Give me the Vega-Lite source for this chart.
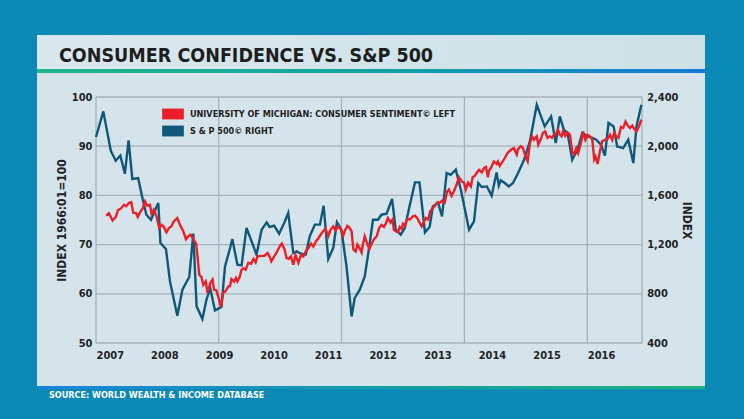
{
  "$schema": "https://vega.github.io/schema/vega-lite/v6.json",
  "background": "#0a88b6",
  "padding": {"left": 37, "top": 35, "right": 39, "bottom": 19},
  "spacing": 0,
  "title": {"text": "SOURCE: WORLD WEALTH & INCOME DATABASE", "orient": "bottom", "anchor": "start", "frame": "group", "offset": 2, "dx": 12, "color": "#ffffff", "font": "DejaVu Sans Condensed, sans-serif", "fontSize": 9, "fontWeight": "bold"},
  "config": {
    "view": {"stroke": null},
    "axis": {"grid": false, "domain": false, "ticks": false, "labelFont": "DejaVu Sans Condensed, sans-serif", "labelFontSize": 11, "labelFontWeight": "bold", "labelColor": "#1f2326", "titleFont": "DejaVu Sans Condensed, sans-serif", "titleFontSize": 12, "titleFontWeight": "bold", "titleColor": "#1f2326"}
  },
  "datasets": {
    "sent": [
      {"d":"2007-03-10","v":75.9},{"d":"2007-03-28","v":76.4},{"d":"2007-04-22","v":74.9},{"d":"2007-05-13","v":75.6},{"d":"2007-05-28","v":77.0},{"d":"2007-06-19","v":77.4},{"d":"2007-07-07","v":78.1},{"d":"2007-07-22","v":77.8},{"d":"2007-08-10","v":78.5},{"d":"2007-08-25","v":78.6},{"d":"2007-09-07","v":76.5},{"d":"2007-09-25","v":76.4},{"d":"2007-10-07","v":75.6},{"d":"2007-10-22","v":76.5},{"d":"2007-11-10","v":77.4},{"d":"2007-11-25","v":78.8},{"d":"2007-12-10","v":77.9},{"d":"2007-12-28","v":78.1},
      {"d":"2008-01-07","v":76.3},{"d":"2008-01-22","v":77.1},{"d":"2008-02-10","v":75.7},{"d":"2008-02-28","v":73.4},{"d":"2008-03-13","v":74.0},{"d":"2008-03-28","v":73.7},{"d":"2008-04-16","v":72.5},{"d":"2008-05-04","v":73.4},{"d":"2008-05-19","v":73.7},{"d":"2008-06-04","v":74.7},{"d":"2008-06-28","v":75.4},{"d":"2008-07-16","v":74.0},{"d":"2008-08-07","v":72.7},{"d":"2008-08-25","v":71.1},{"d":"2008-09-10","v":71.7},{"d":"2008-09-25","v":72.0},{"d":"2008-10-13","v":71.1},{"d":"2008-11-01","v":70.2},{"d":"2008-11-10","v":67.6},{"d":"2008-11-22","v":63.9},{"d":"2008-12-07","v":63.4},{"d":"2008-12-19","v":61.8},
      {"d":"2009-01-04","v":62.5},{"d":"2009-01-16","v":60.2},{"d":"2009-02-04","v":62.2},{"d":"2009-02-19","v":62.9},{"d":"2009-03-01","v":60.8},{"d":"2009-03-16","v":60.7},{"d":"2009-04-01","v":59.1},{"d":"2009-04-16","v":57.3},{"d":"2009-05-01","v":60.2},{"d":"2009-05-16","v":60.5},{"d":"2009-06-04","v":61.5},{"d":"2009-06-16","v":61.6},{"d":"2009-06-25","v":63.0},{"d":"2009-07-13","v":62.5},{"d":"2009-07-25","v":63.2},{"d":"2009-08-04","v":62.5},{"d":"2009-08-19","v":63.4},{"d":"2009-09-01","v":64.9},{"d":"2009-09-13","v":65.2},{"d":"2009-09-28","v":64.9},{"d":"2009-10-16","v":66.3},{"d":"2009-11-04","v":66.1},{"d":"2009-11-19","v":67.1},{"d":"2009-12-04","v":66.4},{"d":"2009-12-16","v":67.6},
      {"d":"2010-01-10","v":67.7},{"d":"2010-02-01","v":67.7},{"d":"2010-02-22","v":68.3},{"d":"2010-03-07","v":67.6},{"d":"2010-03-19","v":66.6},{"d":"2010-04-07","v":67.6},{"d":"2010-04-22","v":68.3},{"d":"2010-05-13","v":69.6},{"d":"2010-05-28","v":70.2},{"d":"2010-06-16","v":69.0},{"d":"2010-06-28","v":67.3},{"d":"2010-07-13","v":67.1},{"d":"2010-07-28","v":67.6},{"d":"2010-08-13","v":65.9},{"d":"2010-08-28","v":67.9},{"d":"2010-09-16","v":66.3},{"d":"2010-10-04","v":67.9},{"d":"2010-10-19","v":67.6},{"d":"2010-11-04","v":68.6},{"d":"2010-11-22","v":69.3},{"d":"2010-12-10","v":70.2},{"d":"2010-12-25","v":69.6},
      {"d":"2011-01-10","v":70.6},{"d":"2011-01-28","v":71.3},{"d":"2011-02-16","v":72.2},{"d":"2011-03-01","v":72.7},{"d":"2011-03-16","v":73.2},{"d":"2011-04-04","v":71.7},{"d":"2011-04-19","v":73.0},{"d":"2011-05-07","v":73.7},{"d":"2011-05-22","v":72.9},{"d":"2011-06-10","v":73.7},{"d":"2011-06-25","v":73.2},{"d":"2011-07-13","v":71.8},{"d":"2011-07-22","v":72.7},{"d":"2011-08-10","v":73.8},{"d":"2011-08-25","v":73.4},{"d":"2011-09-07","v":72.7},{"d":"2011-09-19","v":69.0},{"d":"2011-10-04","v":68.6},{"d":"2011-10-16","v":70.0},{"d":"2011-11-01","v":69.2},{"d":"2011-11-13","v":68.4},{"d":"2011-11-19","v":69.6},{"d":"2011-12-04","v":71.7},{"d":"2011-12-19","v":70.3},
      {"d":"2012-01-04","v":69.1},{"d":"2012-01-19","v":70.2},{"d":"2012-02-04","v":71.1},{"d":"2012-02-22","v":71.7},{"d":"2012-03-10","v":73.4},{"d":"2012-03-25","v":74.0},{"d":"2012-04-10","v":73.6},{"d":"2012-04-22","v":74.2},{"d":"2012-05-07","v":75.4},{"d":"2012-05-25","v":74.5},{"d":"2012-06-07","v":75.1},{"d":"2012-06-16","v":73.0},{"d":"2012-06-28","v":72.7},{"d":"2012-07-13","v":72.5},{"d":"2012-07-25","v":73.6},{"d":"2012-08-07","v":73.2},{"d":"2012-08-16","v":74.2},{"d":"2012-08-28","v":73.8},{"d":"2012-09-13","v":75.2},{"d":"2012-10-01","v":75.1},{"d":"2012-10-19","v":75.7},{"d":"2012-11-04","v":75.9},{"d":"2012-11-19","v":75.4},{"d":"2012-12-04","v":74.5},{"d":"2012-12-19","v":73.7},
      {"d":"2013-01-04","v":74.7},{"d":"2013-01-16","v":75.4},{"d":"2013-02-01","v":75.1},{"d":"2013-02-13","v":76.7},{"d":"2013-03-01","v":77.4},{"d":"2013-03-16","v":77.8},{"d":"2013-04-01","v":78.5},{"d":"2013-04-19","v":78.5},{"d":"2013-05-07","v":79.0},{"d":"2013-05-22","v":78.6},{"d":"2013-06-07","v":80.8},{"d":"2013-06-19","v":81.2},{"d":"2013-07-07","v":79.9},{"d":"2013-07-22","v":80.8},{"d":"2013-08-10","v":82.2},{"d":"2013-08-25","v":83.7},{"d":"2013-09-13","v":82.8},{"d":"2013-09-28","v":82.6},{"d":"2013-10-10","v":81.2},{"d":"2013-10-25","v":82.6},{"d":"2013-11-13","v":81.8},{"d":"2013-11-25","v":83.7},{"d":"2013-12-10","v":84.0},{"d":"2013-12-25","v":84.7},
      {"d":"2014-01-07","v":85.2},{"d":"2014-01-25","v":84.7},{"d":"2014-02-10","v":85.6},{"d":"2014-02-22","v":85.8},{"d":"2014-03-07","v":83.7},{"d":"2014-03-13","v":84.9},{"d":"2014-04-01","v":85.9},{"d":"2014-04-16","v":86.9},{"d":"2014-05-04","v":86.4},{"d":"2014-05-13","v":86.9},{"d":"2014-05-25","v":86.0},{"d":"2014-06-10","v":86.7},{"d":"2014-06-28","v":87.6},{"d":"2014-07-16","v":88.6},{"d":"2014-08-01","v":89.1},{"d":"2014-08-16","v":89.4},{"d":"2014-08-28","v":89.6},{"d":"2014-09-16","v":88.3},{"d":"2014-09-25","v":89.4},{"d":"2014-10-13","v":90.0},{"d":"2014-10-28","v":89.6},{"d":"2014-11-13","v":87.9},{"d":"2014-11-28","v":86.9},{"d":"2014-12-13","v":90.6},{"d":"2014-12-28","v":92.0},
      {"d":"2015-01-10","v":91.3},{"d":"2015-01-28","v":92.0},{"d":"2015-02-07","v":90.3},{"d":"2015-02-25","v":91.5},{"d":"2015-03-10","v":92.7},{"d":"2015-03-25","v":93.0},{"d":"2015-04-10","v":91.7},{"d":"2015-04-25","v":92.0},{"d":"2015-05-10","v":91.7},{"d":"2015-05-22","v":92.3},{"d":"2015-06-10","v":92.7},{"d":"2015-06-19","v":93.4},{"d":"2015-07-01","v":92.3},{"d":"2015-07-13","v":92.0},{"d":"2015-07-22","v":93.0},{"d":"2015-08-07","v":92.1},{"d":"2015-08-22","v":92.8},{"d":"2015-09-07","v":92.3},{"d":"2015-09-22","v":88.9},{"d":"2015-10-04","v":88.3},{"d":"2015-10-19","v":89.6},{"d":"2015-11-01","v":88.6},{"d":"2015-11-19","v":90.6},{"d":"2015-12-04","v":93.0},{"d":"2015-12-19","v":91.3},
      {"d":"2016-01-04","v":92.3},{"d":"2016-01-19","v":92.0},{"d":"2016-02-04","v":91.3},{"d":"2016-02-16","v":87.3},{"d":"2016-02-25","v":87.9},{"d":"2016-03-10","v":86.4},{"d":"2016-03-25","v":88.9},{"d":"2016-04-10","v":91.0},{"d":"2016-04-28","v":91.3},{"d":"2016-05-16","v":91.5},{"d":"2016-06-01","v":92.3},{"d":"2016-06-16","v":91.3},{"d":"2016-06-28","v":92.7},{"d":"2016-07-13","v":92.0},{"d":"2016-07-28","v":91.7},{"d":"2016-08-13","v":93.9},{"d":"2016-08-28","v":93.7},{"d":"2016-09-13","v":95.0},{"d":"2016-09-28","v":94.2},{"d":"2016-10-13","v":93.7},{"d":"2016-10-28","v":94.2},{"d":"2016-11-10","v":93.5},{"d":"2016-11-25","v":93.0},{"d":"2016-12-10","v":93.9},{"d":"2016-12-28","v":95.4}
    ],
    "spx": [
      {"d":"2007-01-01","v":2075},{"d":"2007-02-19","v":2283},{"d":"2007-04-10","v":1963},{"d":"2007-05-13","v":1882},{"d":"2007-06-13","v":1925},{"d":"2007-07-13","v":1776},{"d":"2007-08-07","v":2047},{"d":"2007-09-01","v":1733},{"d":"2007-10-10","v":1741},{"d":"2007-11-10","v":1565},{"d":"2007-12-04","v":1443},
      {"d":"2008-01-04","v":1402},{"d":"2008-01-25","v":1462},{"d":"2008-02-22","v":1538},{"d":"2008-03-07","v":1213},{"d":"2008-04-13","v":1164},{"d":"2008-05-10","v":901},{"d":"2008-06-28","v":622},{"d":"2008-08-01","v":833},{"d":"2008-09-16","v":937},{"d":"2008-10-13","v":1289},{"d":"2008-11-04","v":698},{"d":"2008-12-13","v":595},
      {"d":"2009-01-10","v":758},{"d":"2009-02-04","v":842},{"d":"2009-03-07","v":665},{"d":"2009-04-19","v":692},{"d":"2009-05-13","v":1023},{"d":"2009-06-16","v":1172},{"d":"2009-07-01","v":1245},{"d":"2009-08-04","v":1037},{"d":"2009-09-01","v":1031},{"d":"2009-10-04","v":1335},{"d":"2009-11-07","v":1226},{"d":"2009-12-10","v":1118},
      {"d":"2010-01-13","v":1321},{"d":"2010-02-16","v":1381},{"d":"2010-03-07","v":1343},{"d":"2010-04-07","v":1354},{"d":"2010-05-10","v":1289},{"d":"2010-06-13","v":1376},{"d":"2010-07-10","v":1457},{"d":"2010-08-13","v":1132},{"d":"2010-09-04","v":1145},{"d":"2010-10-04","v":1126},{"d":"2010-11-04","v":1118},{"d":"2010-12-01","v":1267},
      {"d":"2011-01-04","v":1362},{"d":"2011-02-07","v":1362},{"d":"2011-03-04","v":1516},{"d":"2011-04-04","v":1083},{"d":"2011-05-07","v":1172},{"d":"2011-06-01","v":1381},{"d":"2011-07-01","v":1321},{"d":"2011-08-04","v":1023},{"d":"2011-09-07","v":616},{"d":"2011-09-28","v":766},{"d":"2011-11-01","v":833},{"d":"2011-12-04","v":942},
      {"d":"2012-01-01","v":1164},{"d":"2012-01-28","v":1402},{"d":"2012-03-01","v":1402},{"d":"2012-03-25","v":1443},{"d":"2012-04-28","v":1451},{"d":"2012-06-04","v":1571},{"d":"2012-06-28","v":1321},{"d":"2012-08-01","v":1281},{"d":"2012-08-28","v":1335},{"d":"2012-10-01","v":1524},{"d":"2012-11-04","v":1706},{"d":"2012-12-04","v":1706},
      {"d":"2013-01-10","v":1299},{"d":"2013-02-10","v":1343},{"d":"2013-03-04","v":1511},{"d":"2013-04-07","v":1543},{"d":"2013-05-04","v":1429},{"d":"2013-06-04","v":1782},{"d":"2013-07-01","v":1768},{"d":"2013-08-04","v":1809},{"d":"2013-09-07","v":1646},{"d":"2013-11-01","v":1321},{"d":"2013-12-04","v":1389},
      {"d":"2014-01-01","v":1701},{"d":"2014-01-25","v":1668},{"d":"2014-02-28","v":1673},{"d":"2014-04-01","v":1598},{"d":"2014-05-04","v":1787},{"d":"2014-05-19","v":1680},{"d":"2014-06-01","v":1722},{"d":"2014-06-28","v":1701},{"d":"2014-07-25","v":1673},{"d":"2014-08-22","v":1701},{"d":"2014-09-25","v":1782},{"d":"2014-11-04","v":1890},{"d":"2014-12-13","v":2039},
      {"d":"2015-01-28","v":2337},{"d":"2015-03-22","v":2161},{"d":"2015-05-04","v":2242},{"d":"2015-06-04","v":2026},{"d":"2015-07-01","v":2242},{"d":"2015-07-28","v":2134},{"d":"2015-08-22","v":2107},{"d":"2015-09-22","v":1890},{"d":"2015-10-28","v":1972},{"d":"2015-11-28","v":2107},
      {"d":"2016-01-04","v":2080},{"d":"2016-02-04","v":2067},{"d":"2016-03-01","v":2053},{"d":"2016-04-01","v":2012},{"d":"2016-04-28","v":1923},{"d":"2016-05-22","v":2189},{"d":"2016-06-25","v":2161},{"d":"2016-07-19","v":1998},{"d":"2016-08-28","v":1985},{"d":"2016-10-01","v":2053},{"d":"2016-11-04","v":1863},{"d":"2016-11-25","v":2161},{"d":"2016-12-28","v":2337}
    ]
  },
  "vconcat": [
    {
      "width": 668, "height": 34,
      "view": {"fill": {"gradient": "linear", "x1": 0, "y1": 0, "x2": 1, "y2": 0, "stops": [{"offset": 0, "color": "#d9e8ee"}, {"offset": 1, "color": "#cde1e6"}]}},
      "data": {"values": []},
      "mark": "rect",
      "title": {"text": "CONSUMER CONFIDENCE VS. S&P 500", "orient": "bottom", "anchor": "start", "frame": "group", "offset": -7.5, "baseline": "alphabetic", "dx": 22, "font": "DejaVu Sans Condensed, sans-serif", "fontSize": 19.5, "fontWeight": "bold", "color": "#1e1e1e"}
    },
    {
      "width": 668, "height": 4,
      "view": {"fill": {"gradient": "linear", "x1": 0, "y1": 0, "x2": 1, "y2": 0, "stops": [{"offset": 0, "color": "#1fb889"}, {"offset": 0.45, "color": "#14a7a0"}, {"offset": 1, "color": "#1478d6"}]}},
      "data": {"values": []},
      "mark": "rect"
    },
    {
      "width": 668, "height": 313,
      "view": {"fill": "#d5e4ea"},
      "layer": [
        {
          "layer": [
            {
              "data": {"values": [{"g": 50}, {"g": 60}, {"g": 70}, {"g": 80}, {"g": 90}, {"g": 100}]},
              "mark": {"type": "rule", "color": "#a5b2b9", "strokeWidth": 1.3},
              "encoding": {
                "y": {"field": "g", "type": "quantitative", "scale": {"domain": [50, 100], "range": [270, 24], "nice": false, "zero": false}, "axis": null},
                "x": {"datum": {"year": 2007, "month": 1, "date": 1, "utc": true}, "type": "temporal", "axis": {"title": null}},
                "x2": {"datum": {"year": 2017, "month": 1, "date": 1, "utc": true}}
              }
            },
            {
              "data": {"values": [{"t": "2007-01-01"}, {"t": "2009-04-01"}, {"t": "2011-07-01"}, {"t": "2013-10-01"}, {"t": "2016-01-01"}, {"t": "2017-01-01"}]},
              "mark": {"type": "rule", "color": "#a5b2b9", "strokeWidth": 1.3},
              "encoding": {
                "x": {"field": "t", "type": "temporal", "axis": {"title": null}},
                "y": {"datum": 50, "type": "quantitative", "axis": null},
                "y2": {"datum": 100}
              }
            }
          ]
        },
        {
          "data": {"name": "spx"},
          "mark": {"type": "line", "strokeWidth": 2.4},
          "encoding": {
            "x": {"field": "d", "type": "temporal", "axis": {"title": null}},
            "y": {"field": "v", "type": "quantitative", "scale": {"domain": [400, 2400], "range": [270, 24], "nice": false, "zero": false}, "axis": {"orient": "right", "offset": -63.3, "values": [400, 800, 1200, 1600, 2000, 2400], "format": ",d", "title": "INDEX", "labelPadding": 5, "titlePadding": 1}},
            "color": {"datum": "S & P 500© RIGHT"}
          }
        },
        {
          "data": {"name": "sent"},
          "mark": {"type": "line", "strokeWidth": 2.4},
          "encoding": {
            "x": {"field": "d", "type": "temporal",
              "scale": {"type": "utc", "domain": [{"year": 2007, "month": 1, "date": 1, "utc": true}, {"year": 2017, "month": 1, "date": 1, "utc": true}], "range": [59, 605]},
              "axis": {"orient": "bottom", "offset": -43, "title": null, "format": "%Y", "labelAlign": "left", "labelFlush": false, "labelOverlap": false, "labelPadding": 6,
                "values": [{"year": 2007, "month": 1, "date": 1, "utc": true}, {"year": 2008, "month": 1, "date": 1, "utc": true}, {"year": 2009, "month": 1, "date": 1, "utc": true}, {"year": 2010, "month": 1, "date": 1, "utc": true}, {"year": 2011, "month": 1, "date": 1, "utc": true}, {"year": 2012, "month": 1, "date": 1, "utc": true}, {"year": 2013, "month": 1, "date": 1, "utc": true}, {"year": 2014, "month": 1, "date": 1, "utc": true}, {"year": 2015, "month": 1, "date": 1, "utc": true}, {"year": 2016, "month": 1, "date": 1, "utc": true}]}},
            "y": {"field": "v", "type": "quantitative", "scale": {"domain": [50, 100], "range": [270, 24], "nice": false, "zero": false}, "axis": {"orient": "left", "offset": -59, "values": [50, 60, 70, 80, 90, 100], "title": "INDEX 1966:01=100", "labelPadding": 4, "titlePadding": 3}},
            "color": {"datum": "UNIVERSITY OF MICHIGAN: CONSUMER SENTIMENT© LEFT",
              "scale": {"domain": ["UNIVERSITY OF MICHIGAN: CONSUMER SENTIMENT© LEFT", "S & P 500© RIGHT"], "range": ["#ec1f28", "#0f587a"]},
              "legend": {"orient": "none", "legendX": 125, "legendY": 68, "title": null, "padding": 0, "symbolType": "M-1,-0.5H1V0.5H-1Z", "symbolSize": 470, "symbolStrokeWidth": 0, "labelFont": "DejaVu Sans Condensed, sans-serif", "labelFontSize": 9, "labelFontWeight": "bold", "labelColor": "#1e1e1e", "labelOffset": 6, "labelLimit": 400, "rowPadding": -3,
                "encode": {"symbols": {"update": {"fill": {"scale": "color", "field": "value"}, "strokeWidth": {"value": 0}, "opacity": {"value": 1}}}}}
            }
          }
        }
      ],
      "resolve": {"scale": {"y": "independent"}, "axis": {"y": "independent"}}
    },
    {
      "width": 668, "height": 3,
      "view": {"fill": {"gradient": "linear", "x1": 0, "y1": 0, "x2": 1, "y2": 0, "stops": [{"offset": 0, "color": "#1784de"}, {"offset": 0.6, "color": "#12a39a"}, {"offset": 1, "color": "#19b57e"}]}},
      "data": {"values": []},
      "mark": "rect"
    }
  ]
}
